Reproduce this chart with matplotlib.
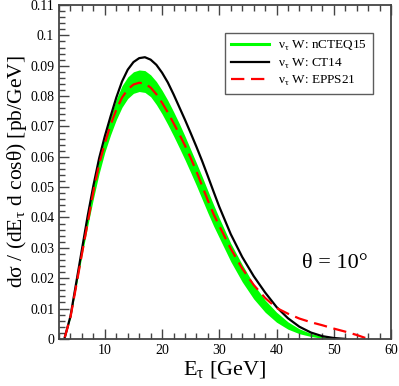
import matplotlib
matplotlib.use('Agg')
import matplotlib.pyplot as plt
from matplotlib.ticker import MultipleLocator

plt.rcParams['font.family'] = ['Liberation Serif', 'DejaVu Serif']
plt.rcParams['mathtext.fontset'] = 'custom'
plt.rcParams['mathtext.rm'] = 'Liberation Serif'

# E_tau grid [GeV]
e_tau = [3, 4, 5, 6, 7, 8, 9, 10, 11, 12, 13, 14, 15, 16, 17, 18, 19, 20,
         21, 22, 23, 24, 25, 26, 27, 28, 29, 30, 32, 34, 36, 38, 40, 42,
         44, 46, 48, 50, 52, 54, 56]

ct14 = [0.0005, 0.0075, 0.0185, 0.0295, 0.0405, 0.0505, 0.0595, 0.0668,
        0.0733, 0.0795, 0.0848, 0.0887, 0.0912, 0.0925, 0.0928, 0.0920,
        0.0903, 0.0877, 0.0845, 0.0806, 0.0764, 0.0722, 0.0678, 0.0633,
        0.0586, 0.0536, 0.0485, 0.0435, 0.0345, 0.0270, 0.0207, 0.0153,
        0.0105, 0.0068, 0.0040, 0.0021, 0.0009, 0.0003, 0.0, 0.0, 0.0]

epps21 = [0.0005, 0.0072, 0.0175, 0.0280, 0.0382, 0.0486, 0.0575, 0.0645,
          0.0705, 0.0755, 0.0795, 0.0822, 0.0838, 0.0844, 0.0841, 0.0828,
          0.0806, 0.0778, 0.0746, 0.0711, 0.0675, 0.0637, 0.0596, 0.0552,
          0.0504, 0.0456, 0.0411, 0.0372, 0.0297, 0.0232, 0.0178, 0.0135,
          0.0102, 0.0083, 0.0067, 0.0055, 0.0045, 0.0034, 0.0024, 0.0013, 0.0]

ncteq_lo = [0.0004, 0.0070, 0.0172, 0.0275, 0.0372, 0.0462, 0.0545, 0.0615,
            0.0672, 0.0722, 0.0763, 0.0792, 0.0809, 0.0815, 0.0812, 0.0798,
            0.0772, 0.0741, 0.0706, 0.0669, 0.0630, 0.0590, 0.0548, 0.0505,
            0.0460, 0.0415, 0.0372, 0.0333, 0.0255, 0.0188, 0.0132, 0.0088,
            0.0055, 0.0032, 0.0017, 0.0008, 0.0002, 0.0, 0.0, 0.0, 0.0]

ncteq_hi = [0.0008, 0.0078, 0.0185, 0.0300, 0.0410, 0.0505, 0.0590, 0.0668,
            0.0733, 0.0790, 0.0834, 0.0863, 0.0880, 0.0886, 0.0884, 0.0870,
            0.0848, 0.0819, 0.0786, 0.0749, 0.0710, 0.0668, 0.0624, 0.0580,
            0.0535, 0.0488, 0.0442, 0.0398, 0.0315, 0.0245, 0.0180, 0.0128,
            0.0088, 0.0056, 0.0033, 0.0018, 0.0008, 0.0002, 0.0, 0.0, 0.0]

tau = r'$_{\mathregular{τ}}$'

fig = plt.figure(figsize=(3.99, 3.86), dpi=100)
ax = fig.add_axes([0.148, 0.122, 0.832, 0.865])

n_band = 38
ax.fill_between(e_tau[:n_band], ncteq_lo[:n_band], ncteq_hi[:n_band],
                color='#00ff00', linewidth=0)
ax.plot(e_tau[:39], ct14[:39], color='black', lw=1.6)
ax.plot(e_tau, epps21, color='red', lw=1.6, dashes=(6, 3))

ax.plot([], [], color='#00ff00', lw=2.2, label='ν' + tau + ' W: nCTEQ15')
ax.plot([], [], color='black', lw=1.6, label='ν' + tau + ' W: CT14')
ax.plot([], [], color='red', lw=1.6, dashes=(6, 3), label='ν' + tau + ' W: EPPS21')

ax.set_xlim(2, 60)
ax.set_ylim(0, 0.11)
ax.xaxis.set_minor_locator(MultipleLocator(2))
ax.yaxis.set_minor_locator(MultipleLocator(0.002))
ax.set_xticks([10, 20, 30, 40, 50, 60])
ax.set_yticks([0, 0.01, 0.02, 0.03, 0.04, 0.05, 0.06, 0.07, 0.08, 0.09, 0.1, 0.11])
ax.set_yticklabels(['0', '0.01', '0.02', '0.03', '0.04', '0.05', '0.06',
                    '0.07', '0.08', '0.09', '0.1', '0.11'])
ax.tick_params(which='both', direction='in', top=True, right=False,
               labelsize=10, width=1, color='#444444')
ax.tick_params(which='major', length=7)
ax.tick_params(which='minor', length=4)
for s in ax.spines.values():
    s.set_linewidth(1.3)
    s.set_color('#444444')

ax.set_xlabel('E' + tau + ' [GeV]', fontsize=16, labelpad=2)
ax.set_ylabel('dσ / (dE' + tau + ' d cosθ) [pb/GeV]', fontsize=15.5, labelpad=1)
ax.text(0.83, 0.225, 'θ = 10°', transform=ax.transAxes, fontsize=16,
        ha='center', va='center')

leg = ax.legend(loc='upper right', bbox_to_anchor=(0.946, 0.916), fontsize=9.5,
                frameon=True, fancybox=False, handlelength=2.9, borderpad=0.45,
                labelspacing=0.25, handletextpad=0.7, borderaxespad=0)
leg.get_frame().set_edgecolor('#333333')
leg.get_frame().set_linewidth(1.0)

fig.savefig('out.png', dpi=100)
